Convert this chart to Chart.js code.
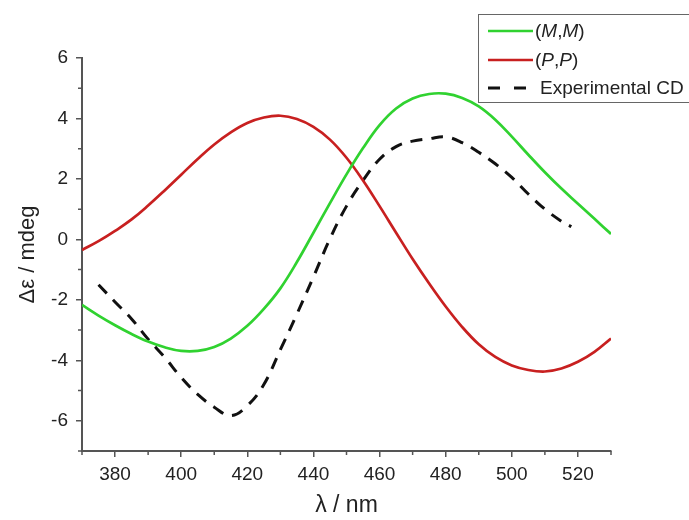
<!DOCTYPE html>
<html>
<head>
<meta charset="utf-8">
<script src="https://cdn.jsdelivr.net/npm/chart.js@4.4.1/dist/chart.umd.min.js"></script>
<style>
  html, body { margin: 0; padding: 0; background: #fff; }
  #wrap { width: 689px; height: 520px; }
</style>
</head>
<body>
<div id="wrap"><canvas id="cdChart" width="689" height="520"></canvas></div>
<script>
// wavelength grid (nm) for the calculated spectra
const wavelength = [370, 375, 380, 385, 390, 395, 400, 405, 410, 415, 420, 425, 430, 435, 440, 445, 450,
                    455, 460, 465, 470, 475, 480, 485, 490, 495, 500, 505, 510, 515, 520, 525, 530];
// calculated (M,M)
const mmValues = [-2.17, -2.52, -2.84, -3.13, -3.38, -3.57, -3.69, -3.69, -3.56, -3.28, -2.86, -2.30, -1.62,
                  -0.75, 0.22, 1.20, 2.15, 3.02, 3.78, 4.33, 4.66, 4.81, 4.82, 4.68, 4.40, 3.96, 3.40,
                  2.80, 2.22, 1.68, 1.18, 0.68, 0.18];
// calculated (P,P)
const ppValues = [-0.35, -0.06, 0.28, 0.66, 1.12, 1.62, 2.14, 2.66, 3.14, 3.54, 3.85, 4.03, 4.09,
                  3.98, 3.72, 3.30, 2.70, 1.95, 1.10, 0.22, -0.65, -1.46, -2.22, -2.90, -3.47, -3.89,
                  -4.17, -4.32, -4.37, -4.27, -4.05, -3.72, -3.28];
// measured spectrum
const expWavelength = [375, 380, 385, 390, 395, 400, 405, 410, 415, 420, 425, 430, 435, 440, 445, 450,
                       455, 460, 465, 470, 475, 480, 485, 490, 495, 500, 505, 510, 515, 518];
const expValues = [-1.50, -2.07, -2.63, -3.30, -3.90, -4.57, -5.13, -5.55, -5.83, -5.50, -4.80, -3.65,
                   -2.47, -1.24, 0.02, 1.10, 1.95, 2.65, 3.07, 3.25, 3.33, 3.39, 3.20, 2.88, 2.50, 2.05,
                   1.50, 1.00, 0.60, 0.42];

const xTicks = [380, 400, 420, 440, 460, 480, 500, 520];
const yTicks = [-6, -4, -2, 0, 2, 4, 6];

const GREEN = 'rgb(48, 210, 48)';
const RED = 'rgb(200, 32, 32)';
const AXIS = '#555';
const FONT = '"Liberation Sans", Arial, sans-serif';

function toPoints(xs, ys) {
  return xs.map((x, i) => ({ x: x, y: ys[i] }));
}

// short minor ticks between the labelled ones
const minorTicks = {
  id: 'minorTicks',
  afterDatasetsDraw(chart) {
    const { ctx, scales: { x, y } } = chart;
    ctx.save();
    ctx.strokeStyle = AXIS;
    ctx.lineWidth = 1.5;
    ctx.beginPath();
    x.ticks.forEach(t => {
      if (xTicks.includes(t.value)) return;
      const px = x.getPixelForValue(t.value);
      ctx.moveTo(px, x.top);
      ctx.lineTo(px, x.top + 4);
    });
    y.ticks.forEach(t => {
      if (yTicks.includes(t.value)) return;
      const py = y.getPixelForValue(t.value);
      ctx.moveTo(y.right, py);
      ctx.lineTo(y.right - 4, py);
    });
    ctx.stroke();
    ctx.restore();
  }
};

// boxed legend with italic labels
const cdLegend = {
  id: 'cdLegend',
  afterDraw(chart) {
    const ctx = chart.ctx;
    const left = 478, top = 14, bottom = 102;
    ctx.save();
    ctx.fillStyle = '#fff';
    ctx.fillRect(left, top, 220, bottom - top);
    ctx.strokeStyle = '#666';
    ctx.lineWidth = 1;
    ctx.strokeRect(left + 0.5, top + 0.5, 220, bottom - top);

    const rows = [
      { y: 31, color: GREEN, dash: [], parts: [['(', false], ['M', true], [',', false], ['M', true], [')', false]] },
      { y: 60, color: RED, dash: [], parts: [['(', false], ['P', true], [',', false], ['P', true], [')', false]] },
      { y: 88, color: '#111', dash: [12, 14], parts: [['Experimental CD', false]], gap: 5 }
    ];
    rows.forEach(r => {
      ctx.strokeStyle = r.color;
      ctx.lineWidth = r.dash.length ? 3 : 2.5;
      ctx.setLineDash(r.dash);
      ctx.beginPath();
      ctx.moveTo(488, r.y);
      ctx.lineTo(533, r.y);
      ctx.stroke();
      ctx.setLineDash([]);
      let tx = 535 + (r.gap || 0);
      ctx.fillStyle = '#222';
      ctx.textBaseline = 'middle';
      r.parts.forEach(([s, it]) => {
        ctx.font = (it ? 'italic ' : '') + '19px ' + FONT;
        ctx.fillText(s, tx, r.y + 1);
        tx += ctx.measureText(s).width;
      });
    });
    ctx.restore();
  }
};

new Chart(document.getElementById('cdChart'), {
  type: 'line',
  data: {
    datasets: [
      {
        label: '(M,M)',
        data: toPoints(wavelength, mmValues),
        borderColor: GREEN,
        borderWidth: 2.7
      },
      {
        label: '(P,P)',
        data: toPoints(wavelength, ppValues),
        borderColor: RED,
        borderWidth: 2.7
      },
      {
        label: 'Experimental CD',
        data: toPoints(expWavelength, expValues),
        borderColor: '#111',
        borderWidth: 3,
        borderDash: [12, 9]
      }
    ]
  },
  options: {
    responsive: false,
    animation: false,
    devicePixelRatio: 1,
    elements: {
      point: { radius: 0 },
      line: { tension: 0.4, fill: false }
    },
    layout: { padding: { left: 0, top: 58, right: 78, bottom: 0 } },
    plugins: {
      legend: { display: false },
      tooltip: { enabled: false }
    },
    scales: {
      x: {
        type: 'linear',
        min: 370,
        max: 530,
        afterFit: s => { s.height = 69; },
        border: { display: true, color: AXIS, width: 2 },
        grid: {
          drawOnChartArea: false,
          tickLength: 6,
          lineWidth: 1.5,
          tickColor: c => xTicks.includes(c.tick.value) ? AXIS : 'rgba(0,0,0,0)'
        },
        ticks: {
          stepSize: 10,
          autoSkip: false,
          maxRotation: 0,
          padding: 6,
          color: '#222',
          font: { family: FONT, size: 19 },
          callback: v => xTicks.includes(v) ? String(v) : ''
        },
        title: {
          display: true,
          text: 'λ / nm',
          color: '#222',
          font: { family: FONT, size: 23 },
          padding: { top: 0, bottom: 1 }
        }
      },
      y: {
        min: -7,
        max: 6,
        afterFit: s => { s.width = 82; },
        border: { display: true, color: AXIS, width: 2 },
        grid: {
          drawOnChartArea: false,
          tickLength: 6,
          lineWidth: 1.5,
          tickColor: c => yTicks.includes(c.tick.value) ? AXIS : 'rgba(0,0,0,0)'
        },
        ticks: {
          stepSize: 1,
          autoSkip: false,
          padding: 8,
          color: '#222',
          font: { family: FONT, size: 19 },
          callback: v => yTicks.includes(v) ? String(v) : ''
        },
        title: {
          display: true,
          text: 'Δε / mdeg',
          color: '#222',
          font: { family: FONT, size: 22 },
          padding: { top: 15, bottom: 0 }
        }
      }
    }
  },
  plugins: [minorTicks, cdLegend]
});
</script>
</body>
</html>
